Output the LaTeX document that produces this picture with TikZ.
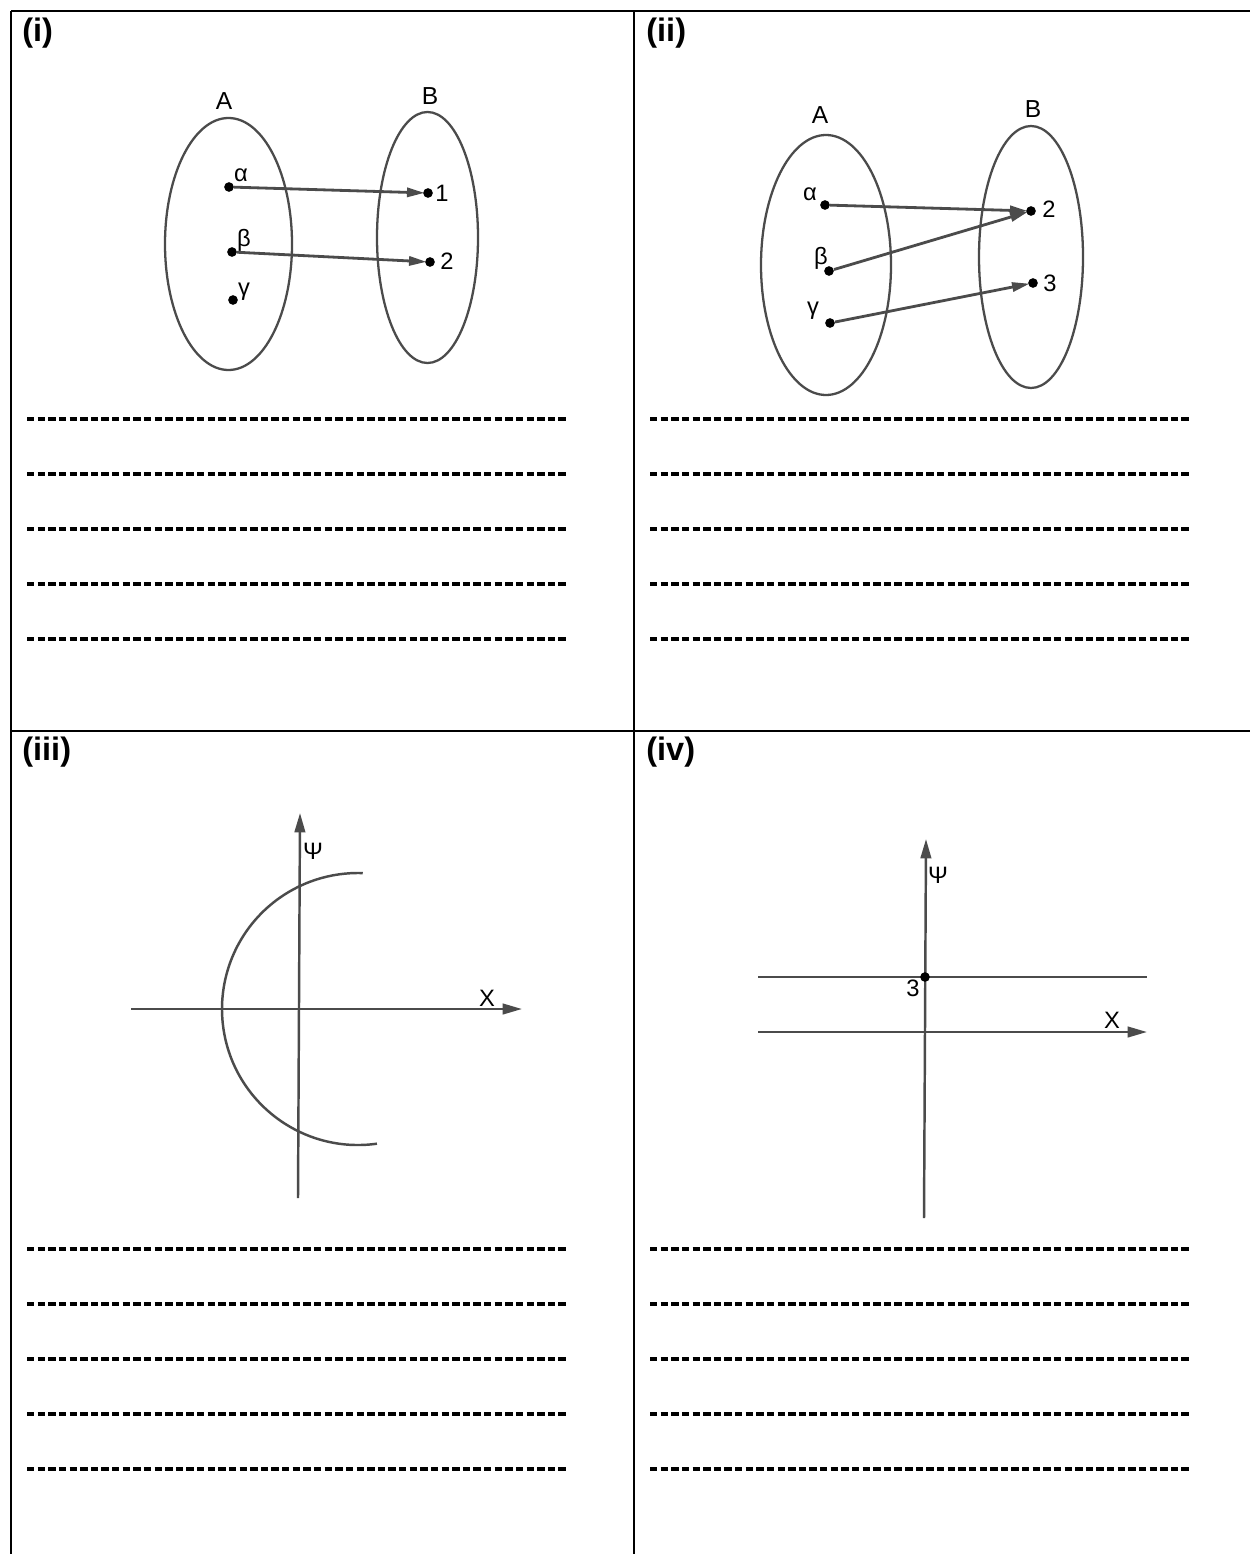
\documentclass[tikz,border=0pt]{standalone}
\usepackage{fontspec}
\setmainfont{Liberation Sans}
\usetikzlibrary{arrows.meta, positioning, calc}
\definecolor{linegray}{RGB}{75,75,75}

\begin{document}
\begin{tikzpicture}[
      x=0.02cm, y=-0.02cm,
      frame/.style={line width=1.2pt, black},
      rule/.style={line width=1.8pt, black, dash pattern=on 4.2pt off 1.85pt},
      set/.style={draw=linegray, line width=1.3pt},
      map/.style={draw=linegray, line width=1.6pt, -{Triangle[length=10pt, width=5.2pt]}, shorten >=-1pt},
      axis/.style={draw=linegray, line width=1.4pt, -{Triangle[length=11pt, width=6pt]}},
      curve/.style={draw=linegray, line width=1.4pt},
      dot/.style={circle, fill=black, inner sep=0pt, minimum size=5.5pt},
      lbl/.style={inner sep=0pt, font=\fontsize{13.5}{15}\selectfont},
      setlbl/.style={inner sep=0pt, font=\fontsize{14}{16}\selectfont},
      tag/.style={inner sep=0pt, anchor=west, font=\fontsize{18.5}{21}\selectfont\bfseries}
    ]
    \useasboundingbox (0,0) rectangle (1250,1554);

    \draw[frame] (11,11) -- (1250,11);
    \draw[frame] (11,11) -- (11,1554);
    \draw[frame] (634,11) -- (634,1554);
    \draw[frame] (11,731) -- (1250,731);

    \node[tag] (tagi) at (22,33) {(i)};
    \node[tag] (tagii) at (646,33) {(ii)};
    \node[tag] (tagiii) at (22,752) {(iii)};
    \node[tag] (tagiv) at (646,752) {(iv)};

    \foreach \y in {419,474,529,584,639} {
      \draw[rule] (27,\y) -- (567,\y);
      \draw[rule] (650,\y) -- (1192,\y);
    }
    \foreach \y in {1249,1304,1359,1414,1469} {
      \draw[rule] (27,\y) -- (567,\y);
      \draw[rule] (650,\y) -- (1192,\y);
    }

    % (i)
    \draw[set] (228.5,244) ellipse [x radius=63.5, y radius=126];
    \draw[set] (427.5,237.5) ellipse [x radius=50.5, y radius=125.5];
    \node[setlbl] (setAi) at (224,101) {A};
    \node[setlbl] (setBi) at (430,96) {B};
    \node[dot] (alphai) at (229,187) {};
    \node[dot] (betai) at (232,252) {};
    \node[dot] (gammai) at (233,300) {};
    \node[dot] (onei) at (428,193) {};
    \node[dot] (twoi) at (430,262) {};
    \node[lbl] at (241,175) {α};
    \node[lbl] at (244,240) {β};
    \node[lbl] at (244,292) {γ};
    \node[lbl] at (442,193) {1};
    \node[lbl] at (447,261) {2};
    \draw[map] (alphai) -- (onei);
    \draw[map] (betai) -- (twoi);

    % (ii)
    \draw[set] (826,265) ellipse [x radius=65, y radius=130];
    \draw[set] (1031,257) ellipse [x radius=52, y radius=131];
    \node[setlbl] (setAii) at (820,115) {A};
    \node[setlbl] (setBii) at (1033,109) {B};
    \node[dot] (alphaii) at (825,205) {};
    \node[dot] (betaii) at (829,271) {};
    \node[dot] (gammaii) at (830,323) {};
    \node[dot] (twoii) at (1031,211) {};
    \node[dot] (threeii) at (1033,283) {};
    \node[lbl] at (810,194) {α};
    \node[lbl] at (821,258) {β};
    \node[lbl] at (813,311) {γ};
    \node[lbl] at (1049,209) {2};
    \node[lbl] at (1050,283) {3};
    \draw[map] (alphaii) -- (twoii);
    \draw[map] (betaii) -- (twoii);
    \draw[map] (gammaii) -- (threeii);

    % (iii)
    \coordinate (yiiib) at (298,1198);
    \coordinate (yiiit) at (300,813);
    \coordinate (xiiil) at (131,1009);
    \coordinate (xiiir) at (522,1009);
    \draw[axis] (yiiib) -- (yiiit);
    \draw[axis] (xiiil) -- (xiiir);
    \draw[curve] (358,1009) ++(82:136) arc [start angle=82, end angle=272, radius=136];
    \node[lbl] at (313,851) {Ψ};
    \node[lbl] at (487,998) {Χ};

    % (iv)
    \coordinate (yivb) at (924,1218);
    \coordinate (yivt) at (926,839);
    \coordinate (xivl) at (758,1032);
    \coordinate (xivr) at (1147,1032);
    \coordinate (hivl) at (758,977);
    \coordinate (hivr) at (1147,977);
    \draw[axis] (yivb) -- (yivt);
    \draw[axis] (xivl) -- (xivr);
    \draw[curve] (hivl) -- (hivr);
    \node[dot] (threeiv) at (925,977) {};
    \node[lbl] at (913,988) {3};
    \node[lbl] at (938,875) {Ψ};
    \node[lbl] at (1112,1020) {Χ};
  \end{tikzpicture}
\end{document}
